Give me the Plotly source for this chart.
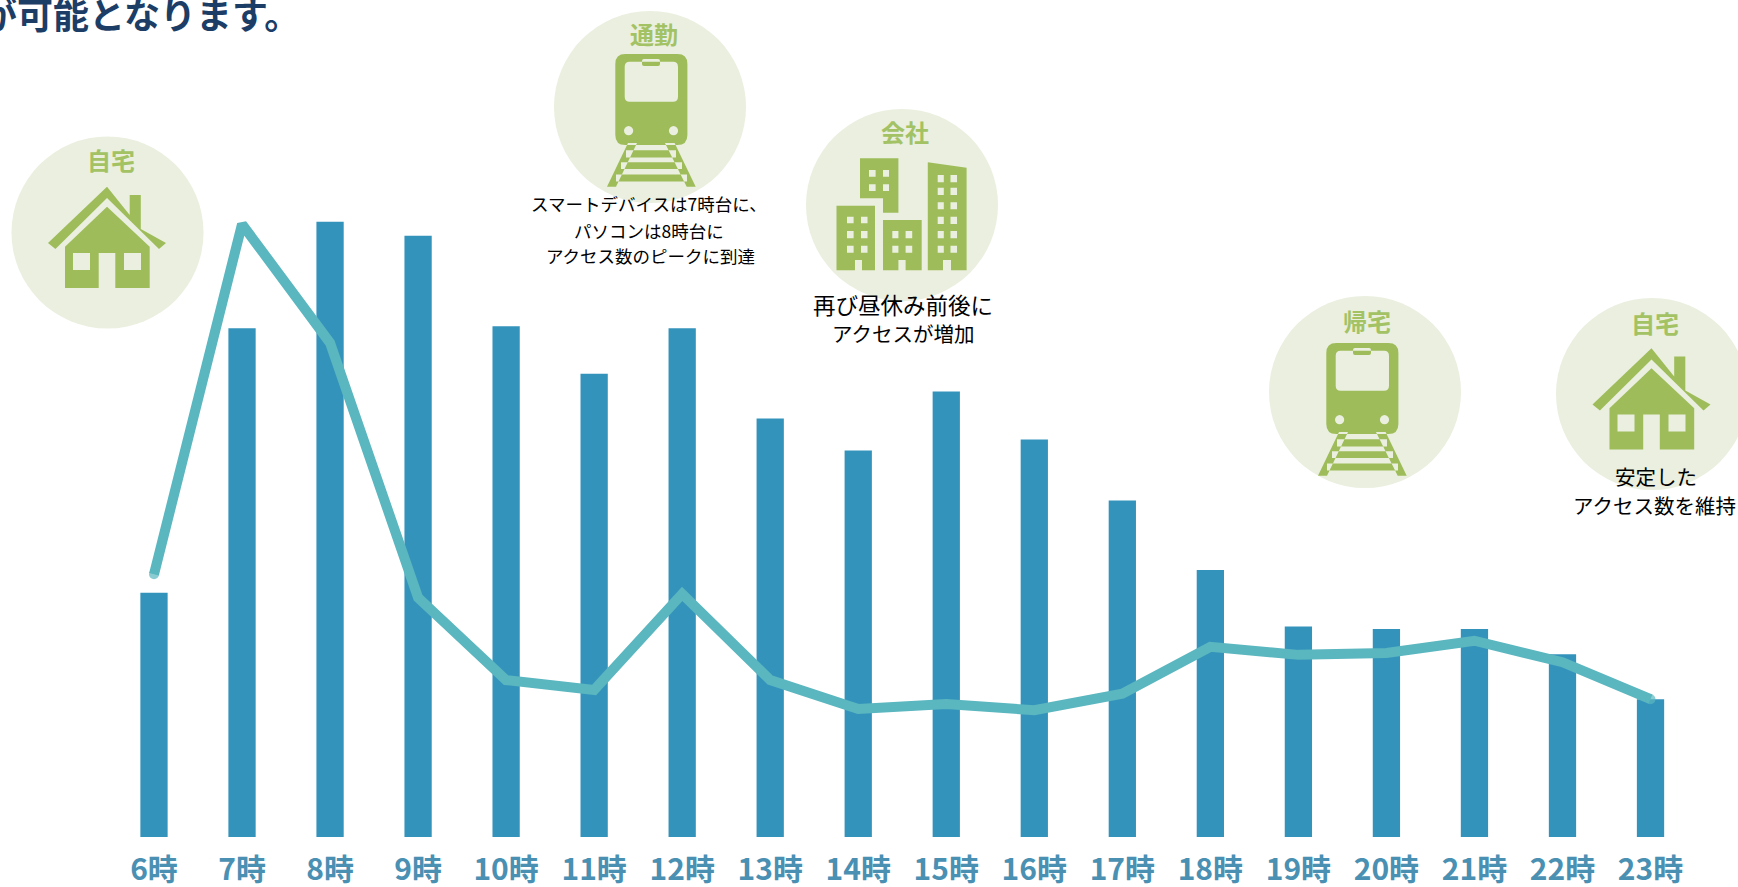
import math
import plotly.graph_objects as go

# --- data (index: tallest bar = 100) ---
hours = ["6時", "7時", "8時", "9時", "10時", "11時", "12時", "13時", "14時",
         "15時", "16時", "17時", "18時", "19時", "20時", "21時", "22時", "23時"]
pc_access = [39.7, 82.7, 100, 97.7, 83.0, 75.3, 82.7, 68.0, 62.8,
             72.4, 64.6, 54.7, 43.4, 34.2, 33.8, 33.8, 29.7, 22.4]
smart_access = [42.7, 99.6, 80.3, 38.9, 25.5, 23.9, 39.5, 25.5, 20.8,
                21.6, 20.6, 23.3, 30.9, 29.6, 29.9, 31.9, 28.4, 22.4]

W, H, BASE = 1738, 887, 837
BAR, LINE = "#3493bb", "#5ab6bf"
DISC, ICON, LABEL = "#eaefdf", "#9ebd5a", "#a3c264"
FONT = "Noto Sans CJK JP"


def px(x):
    return x / W


def py(y):
    return 1 - y / BASE


def pt(x, y, dx=0, dy=0):
    return f"{px(x + dx):.5f},{py(y + dy):.5f}"


def poly(points, dx=0, dy=0):
    return "M" + " L".join(pt(x, y, dx, dy) for x, y in points) + " Z"


def rect(x0, y0, x1, y1, dx=0, dy=0):
    return poly([(x0, y0), (x1, y0), (x1, y1), (x0, y1)], dx, dy)


def round_rect(x0, y0, x1, y1, r, dx=0, dy=0):
    return (f"M{pt(x0 + r, y0, dx, dy)} L{pt(x1 - r, y0, dx, dy)} Q{pt(x1, y0, dx, dy)} {pt(x1, y0 + r, dx, dy)} "
            f"L{pt(x1, y1 - r, dx, dy)} Q{pt(x1, y1, dx, dy)} {pt(x1 - r, y1, dx, dy)} "
            f"L{pt(x0 + r, y1, dx, dy)} Q{pt(x0, y1, dx, dy)} {pt(x0, y1 - r, dx, dy)} "
            f"L{pt(x0, y0 + r, dx, dy)} Q{pt(x0, y0, dx, dy)} {pt(x0 + r, y0, dx, dy)} Z")


def dot(x, y, r, dx=0, dy=0):
    return poly([(x + r * math.cos(a * math.pi / 8), y + r * math.sin(a * math.pi / 8)) for a in range(16)], dx, dy)


def fill(path, color):
    return dict(type="path", path=path, xref="paper", yref="paper",
                fillcolor=color, line=dict(width=0), layer="above")


def disc(cx, cy, r=96):
    return dict(type="circle", xref="paper", yref="paper", layer="below",
                x0=px(cx - r), x1=px(cx + r), y0=py(cy + r), y1=py(cy - r),
                fillcolor=DISC, line=dict(width=0))


def house(cx, cy):
    dx, dy = cx - 107.5, cy - 232.5
    green = [
        poly([(107, 186.7), (129.7, 215), (129.7, 195), (140.8, 195), (140.8, 229),
              (166, 243), (159, 249), (107, 198), (55.4, 249), (48, 243)], dx, dy),
        poly([(107, 206.7), (149.7, 246.7), (149.7, 288), (115.3, 288), (115.3, 253),
              (98.7, 253), (98.7, 288), (65, 288), (65, 246.7)], dx, dy),
    ]
    holes = [rect(73, 253, 90, 270, dx, dy), rect(124, 253, 141, 270, dx, dy)]
    return [fill(" ".join(green), ICON), fill(" ".join(holes), DISC)]


def train(cx, cy):
    dx, dy = cx - 650, cy - 107
    body = round_rect(615.3, 54, 687.4, 145, 10, dx, dy)
    legs = [poly([(628, 143), (637, 143), (616, 186.7), (607, 186.7)], dx, dy),
            poly([(665, 143), (674.6, 143), (695.7, 186.7), (686.7, 186.7)], dx, dy)]
    ties = [rect(626, 150.2, 676, 157.6, dx, dy), rect(621, 162.2, 682, 169, dx, dy),
            rect(616, 174.5, 687, 181.5, dx, dy)]
    window = round_rect(624.7, 61.7, 678, 101.7, 5, dx, dy)
    bump = round_rect(642, 59, 660, 66, 2, dx, dy)
    lamps = [dot(628.6, 130.7, 4.6, dx, dy), dot(673.5, 130.7, 4.6, dx, dy)]
    return [fill(" ".join([body] + legs + ties), ICON), fill(" ".join([window, bump] + lamps), DISC)]


def buildings(cx, cy):
    dx, dy = cx - 902, cy - 205
    blocks = [
        poly([(860, 158.3), (898.4, 158.3), (898.4, 212.7), (883, 212.7), (883, 198.3), (860, 198.3)], dx, dy),
        poly([(836.5, 205.7), (875, 205.7), (875, 270.3), (862, 270.3), (862, 260), (855, 260),
              (855, 270.3), (836.5, 270.3)], dx, dy),
        poly([(883, 220), (921.7, 220), (921.7, 270.3), (905.6, 270.3), (905.6, 260), (898.4, 260),
              (898.4, 270.3), (883, 270.3)], dx, dy),
        poly([(927.8, 162.3), (966.6, 167.7), (966.6, 270.3), (951, 270.3), (951, 260), (943, 260),
              (943, 270.3), (927.8, 270.3)], dx, dy),
    ]
    windows = []
    for x0, x1 in ((869, 875.6), (883, 889)):
        for y0, y1 in ((170, 176.7), (184.3, 191)):
            windows.append(rect(x0, y0, x1, y1, dx, dy))
    for x0, x1 in ((937.7, 943.8), (950.5, 957)):
        for y0, y1 in ((175, 182.3), (187.7, 195), (202.3, 209.3),
                       (216.7, 224), (231, 238.3), (245.7, 252.7)):
            windows.append(rect(x0, y0, x1, y1, dx, dy))
    for x0, x1 in ((892.3, 898.4), (905.6, 912.2)):
        for y0, y1 in ((231, 238.3), (245.7, 252.7)):
            windows.append(rect(x0, y0, x1, y1, dx, dy))
    for x0, x1 in ((847, 853.6), (861, 867.5)):
        for y0, y1 in ((216.7, 223.3), (231, 238.3), (245.7, 252.7)):
            windows.append(rect(x0, y0, x1, y1, dx, dy))
    return [fill(" ".join(blocks), ICON), fill(" ".join(windows), DISC)]


def note(text, x, y, size, color="#000000", bold=False, xanchor="center"):
    return dict(text=f"<b>{text}</b>" if bold else text, x=px(x), y=py(y), xref="paper", yref="paper",
                xanchor=xanchor, yanchor="middle", showarrow=False,
                font=dict(family=FONT, size=size, color=color))


shapes = [disc(107.5, 232.5), disc(650, 107), disc(902, 205), disc(1365, 392), disc(1652, 394)]
shapes += house(107.5, 232.5) + train(650, 107) + buildings(902, 205) + train(1361, 396) + house(1652, 394)

annotations = [
    note("が可能となります。", 302, 13, 36, "#1c3d66", True, "right"),
    note("自宅", 111, 159, 24, LABEL, True),
    note("通勤", 654, 34, 24, LABEL, True),
    note("会社", 905, 132, 24, LABEL, True),
    note("帰宅", 1367, 320, 24, LABEL, True),
    note("自宅", 1655, 322, 24, LABEL, True),
    note("スマートデバイスは7時台に、", 648.5, 204, 17.5),
    note("パソコンは8時台に", 648.5, 230, 17.5),
    note("アクセス数のピークに到達", 650, 256, 17.5),
    note("再び昼休み前後に", 903, 304, 22.5),
    note("アクセスが増加", 903, 333, 20.5),
    note("安定した", 1656, 476, 20.5),
    note("アクセス数を維持", 1654, 505, 20.5),
]

end_caps = [10] + [0] * (len(hours) - 2) + [10]

fig = go.Figure()
fig.add_bar(x=hours, y=pc_access, marker=dict(color=BAR, line=dict(width=0)), width=0.31)
fig.add_scatter(x=hours, y=smart_access, mode="lines+markers", line=dict(color=LINE, width=10),
                marker=dict(color=LINE, size=end_caps, line=dict(width=0)), cliponaxis=False)

fig.update_layout(
    width=W, height=H, margin=dict(l=0, r=0, t=0, b=H - BASE, autoexpand=False),
    paper_bgcolor="#ffffff", plot_bgcolor="rgba(0,0,0,0)", showlegend=False,
    shapes=shapes, annotations=annotations,
    xaxis=dict(type="category", range=[-154 / 88.03, (W - 154) / 88.03], dtick=1,
               showgrid=False, zeroline=False, showline=False, ticks="",
               ticklabelstandoff=12, tickangle=0,
               tickfont=dict(family=FONT, size=30, color="#4a90b3", weight="bold")),
    yaxis=dict(visible=False, range=[0, BASE * 100 / 615.3], fixedrange=True),
)

fig.write_html("out.html", config=dict(displayModeBar=False),
               post_script="document.body.style.margin='0';document.body.style.overflow='hidden';")
